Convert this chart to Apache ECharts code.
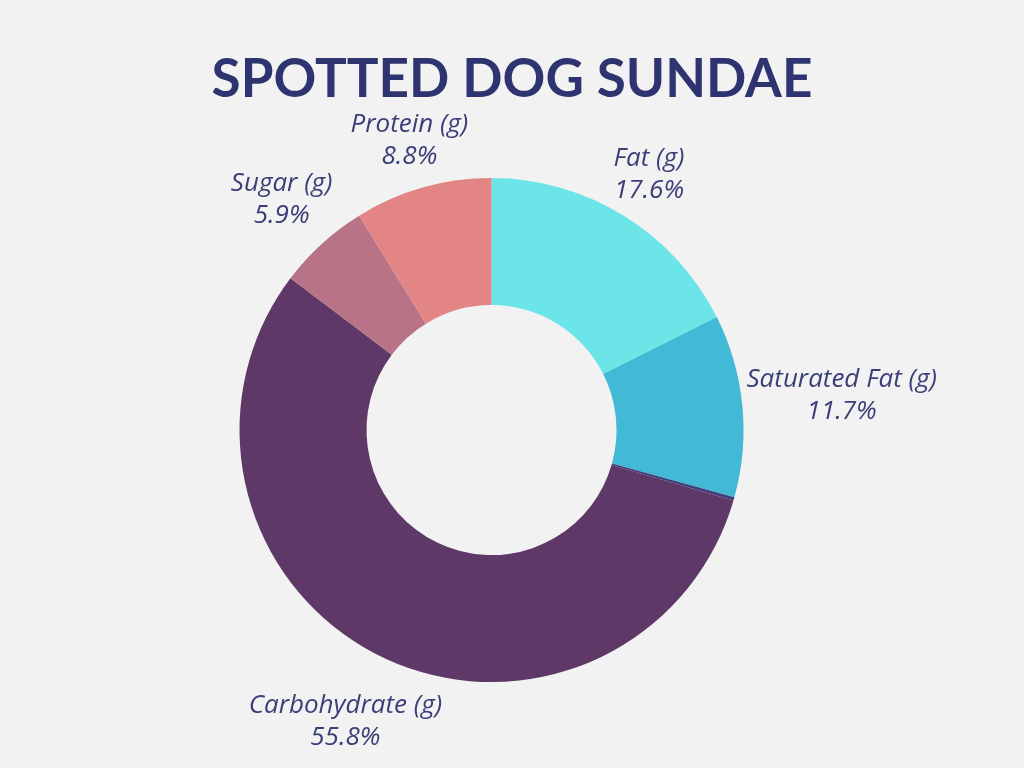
<!DOCTYPE html>
<html>
<head>
<meta charset="utf-8">
<script src="https://cdn.jsdelivr.net/npm/echarts@6/dist/echarts.min.js"></script>
<style>
html,body{margin:0;padding:0;background:#f2f2f2;}
#main{width:1024px;height:768px;}
</style>
</head>
<body>
<div id="main"></div>
<script>
const categories = ['Fat (g)', 'Saturated Fat (g)', 'Cholesterol (g)', 'Carbohydrate (g)', 'Sugar (g)', 'Protein (g)'];
const values = [17.6, 11.7, 0.2, 55.8, 5.9, 8.8];
const colors = ['#6ce5e8', '#42b9d5', '#3f3d7d', '#5e3866', '#b87486', '#e48585'];
const hiddenLabels = ['Cholesterol (g)'];

const chart = echarts.init(document.getElementById('main'));
const total = values.reduce((a, b) => a + b, 0);
const OUTER = 252, INNER = 125;

const option = {
  backgroundColor: '#f2f2f2',
  title: {
    text: 'SPOTTED DOG SUNDAE',
    left: 'center',
    top: 48,
    textStyle: {
      fontFamily: 'Lato',
      fontWeight: 'bold',
      fontSize: 53,
      color: '#2e3470'
    }
  },
  series: [{
    type: 'pie',
    center: ['48%', '56%'],
    radius: [INNER, OUTER],
    startAngle: 90,
    clockwise: true,
    avoidLabelOverlap: false,
    label: {
      show: true,
      position: 'outside',
      fontFamily: 'Open Sans',
      fontStyle: 'italic',
      fontSize: 26,
      lineHeight: 32,
      color: '#3b3f78',
      formatter: p => p.name + '\n' + values[p.dataIndex].toFixed(1) + '%'
    },
    labelLine: { show: false },
    labelLayout: function (params) {
      const i = params.dataIndex;
      let before = 0;
      for (let k = 0; k < i; k++) before += values[k];
      const mid = before + values[i] / 2;
      const theta = (90 - mid / total * 360) * Math.PI / 180;
      const c = Math.cos(theta), s = Math.sin(theta);
      const cx = chart.getWidth() * 0.48, cy = chart.getHeight() * 0.56;
      const w = params.labelRect.width, h = params.labelRect.height;
      const d = OUTER + 2 + Math.abs(c) * w / 2 + Math.abs(s) * h / 2;
      return { x: cx + d * c, y: cy - d * s, align: 'center', verticalAlign: 'middle' };
    },
    emphasis: { disabled: true },
    itemStyle: { borderWidth: 0 },
    data: categories.map((name, i) => ({
      name: name,
      value: values[i],
      itemStyle: { color: colors[i] },
      label: { show: hiddenLabels.indexOf(name) < 0 }
    }))
  }]
};
chart.setOption(option);
</script>
</body>
</html>
